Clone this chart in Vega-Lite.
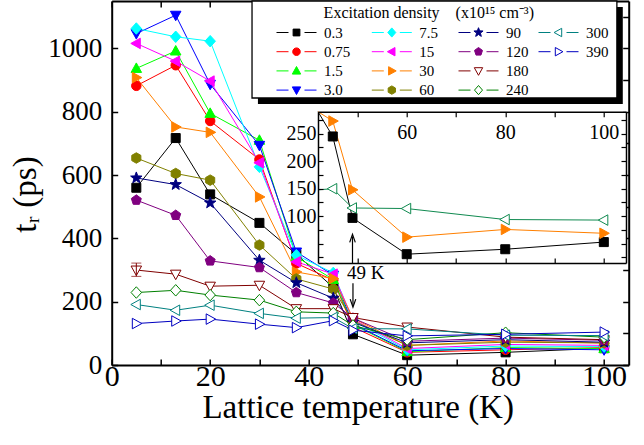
{
  "$schema": "https://vega.github.io/schema/vega-lite/v6.json",
  "width": 517,
  "height": 364,
  "autosize": {"type": "none"},
  "padding": {"left": 111.7, "top": 1, "right": 15.3, "bottom": 80},
  "background": "white",
  "config": {
    "view": {"stroke": null},
    "font": "Liberation Serif, Times New Roman, serif",
    "axis": {"grid": false, "domainColor": "black", "tickColor": "black", "labelColor": "black", "titleColor": "black", "labelFont": "Liberation Serif, Times New Roman, serif", "titleFont": "Liberation Serif, Times New Roman, serif", "titleFontWeight": "normal", "labelFlush": false, "labelOverlap": false, "zindex": 1},
    "legend": {"orient": "none", "direction": "vertical", "padding": 0, "labelFont": "Liberation Serif, Times New Roman, serif", "labelFontSize": 15, "labelColor": "black", "labelOffset": 20, "symbolSize": 64, "symbolStrokeWidth": 1, "rowPadding": 3.2, "symbolOffset": 34, "zindex": 3},
    "text": {"font": "Liberation Serif, Times New Roman, serif"}
  },
  "datasets": {
    "err": [{"T": 5, "lo": 280, "hi": 322}],
    "main": [
      {"d": "0.3", "T": 5, "t": 560}, {"d": "0.3", "T": 13, "t": 717}, {"d": "0.3", "T": 20, "t": 539}, {"d": "0.3", "T": 30, "t": 449}, {"d": "0.3", "T": 37.5, "t": 350}, {"d": "0.3", "T": 45, "t": 245}, {"d": "0.3", "T": 49, "t": 97}, {"d": "0.3", "T": 60, "t": 31}, {"d": "0.3", "T": 80, "t": 40}, {"d": "0.3", "T": 100, "t": 53},
      {"d": "0.75", "T": 5, "t": 882}, {"d": "0.75", "T": 13, "t": 947}, {"d": "0.75", "T": 20, "t": 771}, {"d": "0.75", "T": 30, "t": 649}, {"d": "0.75", "T": 37.5, "t": 321}, {"d": "0.75", "T": 45, "t": 268}, {"d": "0.75", "T": 49, "t": 120}, {"d": "0.75", "T": 60, "t": 40}, {"d": "0.75", "T": 80, "t": 48}, {"d": "0.75", "T": 100, "t": 55},
      {"d": "1.5", "T": 5, "t": 937}, {"d": "1.5", "T": 13, "t": 992}, {"d": "1.5", "T": 20, "t": 795}, {"d": "1.5", "T": 30, "t": 710}, {"d": "1.5", "T": 37.5, "t": 342}, {"d": "1.5", "T": 45, "t": 270}, {"d": "1.5", "T": 49, "t": 128}, {"d": "1.5", "T": 60, "t": 42}, {"d": "1.5", "T": 80, "t": 55}, {"d": "1.5", "T": 100, "t": 52},
      {"d": "3.0", "T": 5, "t": 1047}, {"d": "3.0", "T": 13, "t": 1105}, {"d": "3.0", "T": 20, "t": 887}, {"d": "3.0", "T": 30, "t": 694}, {"d": "3.0", "T": 37.5, "t": 357}, {"d": "3.0", "T": 45, "t": 284}, {"d": "3.0", "T": 49, "t": 130}, {"d": "3.0", "T": 60, "t": 45}, {"d": "3.0", "T": 80, "t": 52}, {"d": "3.0", "T": 100, "t": 48},
      {"d": "7.5", "T": 5, "t": 1063}, {"d": "7.5", "T": 13, "t": 1037}, {"d": "7.5", "T": 20, "t": 1023}, {"d": "7.5", "T": 30, "t": 626}, {"d": "7.5", "T": 37.5, "t": 347}, {"d": "7.5", "T": 45, "t": 291}, {"d": "7.5", "T": 49, "t": 140}, {"d": "7.5", "T": 60, "t": 48}, {"d": "7.5", "T": 80, "t": 60}, {"d": "7.5", "T": 100, "t": 58},
      {"d": "15", "T": 5, "t": 1016}, {"d": "15", "T": 13, "t": 960}, {"d": "15", "T": 20, "t": 897}, {"d": "15", "T": 30, "t": 639}, {"d": "15", "T": 37.5, "t": 326}, {"d": "15", "T": 45, "t": 287}, {"d": "15", "T": 49, "t": 145}, {"d": "15", "T": 60, "t": 52}, {"d": "15", "T": 80, "t": 65}, {"d": "15", "T": 100, "t": 62},
      {"d": "30", "T": 5, "t": 908}, {"d": "30", "T": 13, "t": 752}, {"d": "30", "T": 20, "t": 735}, {"d": "30", "T": 30, "t": 531}, {"d": "30", "T": 37.5, "t": 294}, {"d": "30", "T": 45, "t": 273}, {"d": "30", "T": 49, "t": 148}, {"d": "30", "T": 60, "t": 62}, {"d": "30", "T": 80, "t": 76}, {"d": "30", "T": 100, "t": 69},
      {"d": "60", "T": 5, "t": 654}, {"d": "60", "T": 13, "t": 605}, {"d": "60", "T": 20, "t": 584}, {"d": "60", "T": 30, "t": 379}, {"d": "60", "T": 37.5, "t": 272}, {"d": "60", "T": 45, "t": 240}, {"d": "60", "T": 49, "t": 140}, {"d": "60", "T": 60, "t": 62}, {"d": "60", "T": 80, "t": 72}, {"d": "60", "T": 100, "t": 70},
      {"d": "90", "T": 5, "t": 591}, {"d": "90", "T": 13, "t": 570}, {"d": "90", "T": 20, "t": 512}, {"d": "90", "T": 30, "t": 331}, {"d": "90", "T": 37.5, "t": 260}, {"d": "90", "T": 45, "t": 211}, {"d": "90", "T": 49, "t": 135}, {"d": "90", "T": 60, "t": 70}, {"d": "90", "T": 80, "t": 80}, {"d": "90", "T": 100, "t": 72},
      {"d": "120", "T": 5, "t": 521}, {"d": "120", "T": 13, "t": 473}, {"d": "120", "T": 20, "t": 329}, {"d": "120", "T": 30, "t": 308}, {"d": "120", "T": 37.5, "t": 229}, {"d": "120", "T": 45, "t": 196}, {"d": "120", "T": 49, "t": 148}, {"d": "120", "T": 60, "t": 75}, {"d": "120", "T": 80, "t": 85}, {"d": "120", "T": 100, "t": 78},
      {"d": "180", "T": 5, "t": 300}, {"d": "180", "T": 13, "t": 287}, {"d": "180", "T": 20, "t": 249}, {"d": "180", "T": 30, "t": 252}, {"d": "180", "T": 37.5, "t": 178}, {"d": "180", "T": 45, "t": 178}, {"d": "180", "T": 49, "t": 150}, {"d": "180", "T": 60, "t": 120}, {"d": "180", "T": 80, "t": 88}, {"d": "180", "T": 100, "t": 80},
      {"d": "240", "T": 5, "t": 229}, {"d": "240", "T": 13, "t": 236}, {"d": "240", "T": 20, "t": 221}, {"d": "240", "T": 30, "t": 205}, {"d": "240", "T": 37.5, "t": 168}, {"d": "240", "T": 45, "t": 164}, {"d": "240", "T": 49, "t": 125}, {"d": "240", "T": 60, "t": 80}, {"d": "240", "T": 80, "t": 102}, {"d": "240", "T": 100, "t": 88},
      {"d": "300", "T": 5, "t": 191}, {"d": "300", "T": 13, "t": 173}, {"d": "300", "T": 20, "t": 189}, {"d": "300", "T": 30, "t": 163}, {"d": "300", "T": 37.5, "t": 148}, {"d": "300", "T": 45, "t": 150}, {"d": "300", "T": 49, "t": 115}, {"d": "300", "T": 60, "t": 114}, {"d": "300", "T": 80, "t": 94}, {"d": "300", "T": 100, "t": 93},
      {"d": "390", "T": 5, "t": 131}, {"d": "390", "T": 13, "t": 139}, {"d": "390", "T": 20, "t": 145}, {"d": "390", "T": 30, "t": 129}, {"d": "390", "T": 37.5, "t": 118}, {"d": "390", "T": 45, "t": 140}, {"d": "390", "T": 49, "t": 110}, {"d": "390", "T": 60, "t": 92}, {"d": "390", "T": 80, "t": 97}, {"d": "390", "T": 100, "t": 104}
    ]
  },
  "resolve": {"scale": {"x": "independent", "y": "independent", "stroke": "independent", "fill": "independent", "shape": "independent"}},
  "layer": [
    {
      "data": {"name": "main"},
      "layer": [
        {
          "mark": {"type": "line", "strokeWidth": 1},
          "encoding": {
            "x": {"field": "T", "type": "quantitative", "title": "Lattice temperature (K)", "scale": {"domain": [0, 105], "nice": false, "zero": false},
              "axis": {"orient": "bottom", "values": [0, 10, 20, 30, 40, 50, 60, 70, 80, 90, 100], "format": "d", "labelExpr": "datum.value % 20 == 0 ? datum.label : ''", "tickSize": -6, "tickWidth": 1.5, "domainWidth": 2, "labelFontSize": 30, "labelPadding": 2, "titleFontSize": 33, "titlePadding": 0, "titleX": 246}},
            "y": {"field": "t", "type": "quantitative", "title": "tᵣ (ps)", "scale": {"domain": [0, 1150], "nice": false},
              "axis": {"orient": "left", "values": [0, 100, 200, 300, 400, 500, 600, 700, 800, 900, 1000, 1100], "format": "d", "labelExpr": "datum.value % 200 == 0 ? datum.label : ''", "tickSize": -6, "tickWidth": 1.5, "domainWidth": 2, "labelFontSize": 27, "labelPadding": 16, "titleFontSize": 33, "titlePadding": 5, "titleY": 193}},
            "stroke": {"field": "d", "type": "nominal", "legend": null, "scale": {"domain": ["0.3","0.75","1.5","3.0","7.5","15","30","60","90","120","180","240","300","390"], "range": ["#000000","#FF0000","#00FF00","#0000FF","#00FFFF","#FF00FF","#FF8000","#808000","#000080","#800080","#800000","#008000","#008080","#0000C0"]}}
          }
        },
        {
          "mark": {"type": "point", "size": 100, "opacity": 1, "strokeWidth": 1},
          "encoding": {
            "x": {"field": "T", "type": "quantitative", "title": "Lattice temperature (K)"},
            "y": {"field": "t", "type": "quantitative", "title": "tᵣ (ps)"},
            "stroke": {"field": "d", "type": "nominal", "legend": null, "scale": {"domain": ["0.3","0.75","1.5","3.0","7.5","15","30","60","90","120","180","240","300","390"], "range": ["#000000","#FF0000","#00FF00","#0000FF","#00FFFF","#FF00FF","#FF8000","#808000","#000080","#800080","#800000","#008000","#008080","#0000C0"]}},
            "fill": {"field": "d", "type": "nominal", "legend": null, "scale": {"domain": ["0.3","0.75","1.5","3.0","7.5","15","30","60","90","120","180","240","300","390"], "range": ["#000000","#FF0000","#00FF00","#0000FF","#00FFFF","#FF00FF","#FF8000","#808000","#000080","#800080","#FFFFFF","#FFFFFF","#FFFFFF","#FFFFFF"]}},
            "shape": {"field": "d", "type": "nominal", "legend": null, "scale": {"domain": ["0.3","0.75","1.5","3.0","7.5","15","30","60","90","120","180","240","300","390"], "range": [
              "M-0.9,-0.9H0.9V0.9H-0.9Z",
              "M0.95,0A0.95,0.95 0 1,1 -0.95,0A0.95,0.95 0 1,1 0.95,0Z",
              "M0,-1.1L1.05,0.8H-1.05Z",
              "M0,1.1L1.05,-0.8H-1.05Z",
              "M0,-1.15L1.05,0L0,1.15L-1.05,0Z",
              "M-1.1,0L0.8,-1.05V1.05Z",
              "M1.1,0L-0.8,-1.05V1.05Z",
              "M0,-1.05L0.91,-0.525L0.91,0.525L0,1.05L-0.91,0.525L-0.91,-0.525Z",
              "M0,-1.2L0.296,-0.408L1.141,-0.371L0.479,0.156L0.706,0.971L0,0.504L-0.706,0.971L-0.479,0.156L-1.141,-0.371L-0.296,-0.408Z",
              "M0,-1.05L0.999,-0.324L0.617,0.849L-0.617,0.849L-0.999,-0.324Z",
              "M0,1.1L1.05,-0.8H-1.05Z",
              "M0,-1.15L1.05,0L0,1.15L-1.05,0Z",
              "M-1.1,0L0.8,-1.05V1.05Z",
              "M1.1,0L-0.8,-1.05V1.05Z"]}}
          }
        },
        {
          "data": {"name": "err"},
          "mark": {"type": "errorbar", "ticks": true, "size": 10, "color": "#800000"},
          "encoding": {
            "x": {"field": "T", "type": "quantitative", "title": "Lattice temperature (K)"},
            "y": {"field": "lo", "type": "quantitative", "title": "tᵣ (ps)"},
            "y2": {"field": "hi"}
          }
        },
        {
          "data": {"name": "err"},
          "mark": {"type": "rect", "fill": "black"},
          "encoding": {
            "x": {"datum": 29.7, "type": "quantitative"}, "x2": {"datum": 103.8},
            "y": {"datum": 824.6, "type": "quantitative"}, "y2": {"datum": 1131}
          }
        },
        {
          "data": {"name": "err"},
          "mark": {"type": "rect", "fill": "white", "stroke": "black", "strokeWidth": 1.3},
          "encoding": {
            "x": {"datum": 28.5, "type": "quantitative"}, "x2": {"datum": 102.6},
            "y": {"datum": 843.5, "type": "quantitative"}, "y2": {"datum": 1150}
          }
        },
        {
          "data": {"name": "err"},
          "mark": {"type": "text", "fontSize": 16, "font": "Liberation Serif, Times New Roman, serif", "baseline": "middle", "align": "center", "color": "black"},
          "encoding": {
            "x": {"datum": 64.4, "type": "quantitative"},
            "y": {"datum": 1112, "type": "quantitative"},
            "text": {"value": "Excitation density\u00a0\u00a0\u00a0\u00a0(x10¹⁵ cm⁻³)"}
          }
        },
        {
          "data": {"name": "err"},
          "mark": {"type": "text", "fontSize": 19, "font": "Liberation Serif, Times New Roman, serif", "baseline": "middle", "align": "center", "color": "black"},
          "encoding": {
            "x": {"datum": 51.6, "type": "quantitative"},
            "y": {"datum": 290, "type": "quantitative"},
            "text": {"value": "49 K"}
          }
        },
        {
          "data": {"name": "err"},
          "mark": {"type": "rule", "strokeWidth": 1.2, "color": "black"},
          "encoding": {
            "x": {"datum": 49, "type": "quantitative"},
            "y": {"datum": 258, "type": "quantitative"}, "y2": {"datum": 188}
          }
        },
        {
          "data": {"name": "err"},
          "mark": {"type": "point", "shape": "M-0.35,-1L0,0L0.35,-1", "size": 256, "filled": false, "stroke": "black", "strokeWidth": 1.2, "opacity": 1},
          "encoding": {
            "x": {"datum": 49, "type": "quantitative"},
            "y": {"datum": 183, "type": "quantitative"}
          }
        }
      ]
    },
    {
      "data": {"name": "err"},
      "mark": {"type": "point", "opacity": 0},
      "encoding": {
        "x": {"datum": 0, "type": "quantitative", "scale": {"domain": [0, 105], "nice": false, "zero": false},
          "axis": {"orient": "top", "values": [0, 10, 20, 30, 40, 50, 60, 70, 80, 90, 100], "labels": false, "tickSize": -6, "tickWidth": 1.5, "domainWidth": 2, "title": null}},
        "y": {"datum": 0, "type": "quantitative", "scale": {"domain": [0, 1150], "nice": false},
          "axis": {"orient": "right", "values": [0, 100, 200, 300, 400, 500, 600, 700, 800, 900, 1000, 1100], "labels": false, "tickSize": -6, "tickWidth": 1.5, "domainWidth": 2, "title": null}}
      }
    },
    {
      "resolve": {"axis": {"x": "independent", "y": "independent"}},
      "layer": [
        {
          "data": {"name": "err"},
          "mark": {"type": "rect", "fill": "white"},
          "encoding": {
            "x": {"datum": 42, "type": "quantitative", "scale": {"domain": [42, 104.5], "range": [206.3, 514.3], "nice": false, "zero": false, "clamp": true},
              "axis": {"orient": "bottom", "offset": -102, "values": [50, 60, 70, 80, 90, 100], "labels": false, "tickSize": -5, "tickWidth": 1.2, "domainWidth": 1.5, "title": null, "zindex": 2}},
            "x2": {"datum": 104.5},
            "y": {"datum": 15, "type": "quantitative", "scale": {"domain": [15, 290], "range": [262, 110.7], "nice": false, "zero": false, "clamp": true},
              "axis": {"orient": "right", "offset": -2.7, "values": [25, 50, 75, 100, 125, 150, 175, 200, 225, 250, 275], "labels": false, "tickSize": -5, "tickWidth": 1.2, "domainWidth": 1.5, "title": null, "zindex": 2}},
            "y2": {"datum": 290}
          }
        },
        {
          "data": {"name": "main"},
          "transform": [{"filter": {"field": "d", "oneOf": ["0.3", "30", "300"]}}, {"filter": "datum.T >= 37.5"}],
          "mark": {"type": "line", "strokeWidth": 1},
          "encoding": {
            "x": {"field": "T", "type": "quantitative", "scale": {"domain": [42, 104.5], "range": [206.3, 514.3], "nice": false, "zero": false, "clamp": true},
              "axis": {"orient": "bottom", "offset": -253.3, "values": [50, 60, 70, 80, 90, 100], "format": "d", "labelExpr": "datum.value % 20 == 0 ? datum.label : ''", "tickSize": 5, "tickWidth": 1.2, "domainWidth": 1.5, "labelFontSize": 20, "labelPadding": 6, "title": null, "zindex": 2}},
            "y": {"field": "t", "type": "quantitative", "scale": {"domain": [15, 290], "range": [262, 110.7], "nice": false, "zero": false, "clamp": true},
              "axis": {"orient": "left", "offset": -206.3, "values": [25, 50, 75, 100, 125, 150, 175, 200, 225, 250, 275], "format": "d", "labelExpr": "datum.value % 50 == 0 && datum.value >= 100 ? datum.label : ''", "tickSize": -5, "tickWidth": 1.2, "domainWidth": 1.5, "labelFontSize": 20, "labelPadding": 7, "title": null, "zindex": 2}},
            "stroke": {"field": "d", "type": "nominal", "legend": null, "scale": {"domain": ["0.3", "30", "300"], "range": ["#000000", "#FF8000", "#108A50"]}}
          }
        },
        {
          "data": {"name": "main"},
          "transform": [{"filter": {"field": "d", "oneOf": ["0.3", "30", "300"]}}, {"filter": "datum.T >= 45"}],
          "mark": {"type": "point", "size": 100, "opacity": 1, "strokeWidth": 1},
          "encoding": {
            "x": {"field": "T", "type": "quantitative", "axis": null},
            "y": {"field": "t", "type": "quantitative", "axis": null},
            "stroke": {"field": "d", "type": "nominal", "legend": null, "scale": {"domain": ["0.3", "30", "300"], "range": ["#000000", "#FF8000", "#008080"]}},
            "fill": {"field": "d", "type": "nominal", "legend": null, "scale": {"domain": ["0.3", "30", "300"], "range": ["#000000", "#FF8000", "#FFFFFF"]}},
            "shape": {"field": "d", "type": "nominal", "legend": null, "scale": {"domain": ["0.3", "30", "300"], "range": ["M-0.9,-0.9H0.9V0.9H-0.9Z", "M1.1,0L-0.8,-1.05V1.05Z", "M-1.1,0L0.8,-1.05V1.05Z"]}}
          }
        },
        {
          "data": {"name": "err"},
          "mark": {"type": "rule", "strokeWidth": 1.2, "color": "black"},
          "encoding": {
            "x": {"datum": 49, "type": "quantitative", "axis": null},
            "y": {"datum": 15, "type": "quantitative", "axis": null}, "y2": {"datum": 63}
          }
        },
        {
          "data": {"name": "err"},
          "mark": {"type": "point", "shape": "M-0.35,1L0,0L0.35,1", "size": 256, "filled": false, "stroke": "black", "strokeWidth": 1.2, "opacity": 1},
          "encoding": {
            "x": {"datum": 49, "type": "quantitative", "axis": null},
            "y": {"datum": 67, "type": "quantitative", "axis": null}
          }
        }
      ]
    },
    {
      "data": {"name": "main"},
      "transform": [{"filter": "false"}],
      "mark": {"type": "point", "opacity": 1, "size": 64, "strokeWidth": 1},
      "encoding": {
        "shape": {"field": "d", "type": "nominal", "legend": {"title": null, "legendX": 143.3, "legendY": 24},
          "scale": {"domain": ["0.3","0.75","1.5","3.0"], "range": [
            "M-5,0H-2M2,0H5M-0.85,-0.85H0.85V0.85H-0.85Z",
            "M-5,0H-2M2,0H5M0.95,0A0.95,0.95 0 1,1 -0.95,0A0.95,0.95 0 1,1 0.95,0Z",
            "M-5,0H-2M2,0H5M0,-1.1L1.05,0.8H-1.05Z",
            "M-5,0H-2M2,0H5M0,1.1L1.05,-0.8H-1.05Z"]}},
        "fill": {"field": "d", "type": "nominal", "legend": {"title": null, "legendX": 143.3, "legendY": 24},
          "scale": {"domain": ["0.3","0.75","1.5","3.0"], "range": ["#000000","#FF0000","#00FF00","#0000FF"]}},
        "stroke": {"field": "d", "type": "nominal", "legend": {"title": null, "legendX": 143.3, "legendY": 24},
          "scale": {"domain": ["0.3","0.75","1.5","3.0"], "range": ["#000000","#FF0000","#00FF00","#0000FF"]}}
      }
    },
    {
      "data": {"name": "main"},
      "transform": [{"filter": "false"}],
      "mark": {"type": "point", "opacity": 1, "size": 64, "strokeWidth": 1},
      "encoding": {
        "shape": {"field": "d", "type": "nominal", "legend": {"title": null, "legendX": 238.6, "legendY": 24},
          "scale": {"domain": ["7.5","15","30","60"], "range": [
            "M-5,0H-2M2,0H5M0,-1.15L1,0L0,1.15L-1,0Z",
            "M-5,0H-2M2,0H5M-1.1,0L0.8,-1.05V1.05Z",
            "M-5,0H-2M2,0H5M1.1,0L-0.8,-1.05V1.05Z",
            "M-5,0H-2M2,0H5M0,-1.05L0.91,-0.525L0.91,0.525L0,1.05L-0.91,0.525L-0.91,-0.525Z"]}},
        "fill": {"field": "d", "type": "nominal", "legend": {"title": null, "legendX": 238.6, "legendY": 24},
          "scale": {"domain": ["7.5","15","30","60"], "range": ["#00FFFF","#FF00FF","#FF8000","#808000"]}},
        "stroke": {"field": "d", "type": "nominal", "legend": {"title": null, "legendX": 238.6, "legendY": 24},
          "scale": {"domain": ["7.5","15","30","60"], "range": ["#00FFFF","#FF00FF","#FF8000","#808000"]}}
      }
    },
    {
      "data": {"name": "main"},
      "transform": [{"filter": "false"}],
      "mark": {"type": "point", "opacity": 1, "size": 64, "strokeWidth": 1},
      "encoding": {
        "shape": {"field": "d", "type": "nominal", "legend": {"title": null, "legendX": 325.3, "legendY": 24},
          "scale": {"domain": ["90","120","180","240"], "range": [
            "M-5,0H-2M2,0H5M0,-1.2L0.296,-0.408L1.141,-0.371L0.479,0.156L0.706,0.971L0,0.504L-0.706,0.971L-0.479,0.156L-1.141,-0.371L-0.296,-0.408Z",
            "M-5,0H-2M2,0H5M0,-1.05L0.999,-0.324L0.617,0.849L-0.617,0.849L-0.999,-0.324Z",
            "M-5,0H-2M2,0H5M0,1.1L1.05,-0.8H-1.05Z",
            "M-5,0H-2M2,0H5M0,-1.15L1,0L0,1.15L-1,0Z"]}},
        "fill": {"field": "d", "type": "nominal", "legend": {"title": null, "legendX": 325.3, "legendY": 24},
          "scale": {"domain": ["90","120","180","240"], "range": ["#000080","#800080","#FFFFFF","#FFFFFF"]}},
        "stroke": {"field": "d", "type": "nominal", "legend": {"title": null, "legendX": 325.3, "legendY": 24},
          "scale": {"domain": ["90","120","180","240"], "range": ["#000080","#800080","#800000","#008000"]}}
      }
    },
    {
      "data": {"name": "main"},
      "transform": [{"filter": "false"}],
      "mark": {"type": "point", "opacity": 1, "size": 64, "strokeWidth": 1},
      "encoding": {
        "shape": {"field": "d", "type": "nominal", "legend": {"title": null, "legendX": 405.3, "legendY": 24},
          "scale": {"domain": ["300","390"], "range": [
            "M-5,0H-2M2,0H5M-1.1,0L0.8,-1.05V1.05Z",
            "M-5,0H-2M2,0H5M1.1,0L-0.8,-1.05V1.05Z"]}},
        "fill": {"field": "d", "type": "nominal", "legend": {"title": null, "legendX": 405.3, "legendY": 24},
          "scale": {"domain": ["300","390"], "range": ["#FFFFFF","#FFFFFF"]}},
        "stroke": {"field": "d", "type": "nominal", "legend": {"title": null, "legendX": 405.3, "legendY": 24},
          "scale": {"domain": ["300","390"], "range": ["#008080","#0000C0"]}}
      }
    }
  ]
}
